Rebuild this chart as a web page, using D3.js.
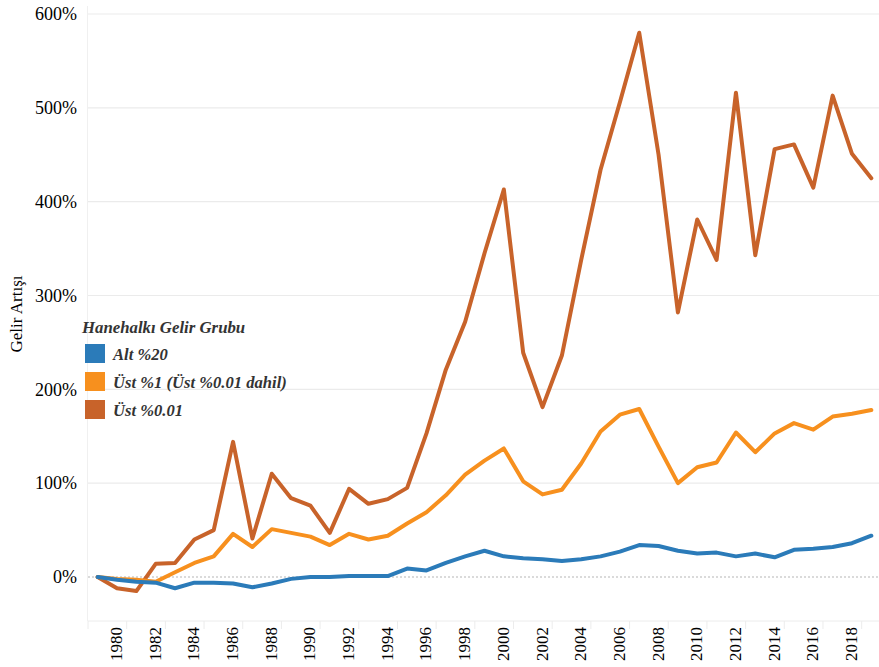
<!DOCTYPE html>
<html>
<head>
<meta charset="utf-8">
<script src="https://cdn.jsdelivr.net/npm/d3@7"></script>
<style>
  body { margin: 0; background: #fff; }
</style>
</head>
<body>
<div id="chart"></div>
<script>
const years = d3.range(1979, 2020);
const alt20 = [0, -3, -5, -6, -12, -6, -6, -7, -11, -7, -2, 0, 0, 1, 1, 1, 9, 7, 15, 22, 28, 22, 20, 19, 17, 19, 22, 27, 34, 33, 28, 25, 26, 22, 25, 21, 29, 30, 32, 36, 44];
const ust1 = [0, -2, -3, -5, 5, 15, 22, 46, 32, 51, 47, 43, 34, 46, 40, 44, 57, 69, 87, 109, 124, 137, 102, 88, 93, 121, 155, 173, 179, 139, 100, 117, 122, 154, 133, 153, 164, 157, 171, 174, 178];
const ust001 = [0, -12, -15, 14, 15, 40, 50, 144, 41, 110, 84, 76, 47, 94, 78, 83, 95, 153, 221, 272, 345, 413, 239, 181, 236, 338, 434, 506, 580, 450, 282, 381, 338, 516, 343, 456, 461, 415, 513, 451, 425];
const yTicks = [0, 100, 200, 300, 400, 500, 600];
const seriesNames = ['Alt %20', 'Üst %1 (Üst %0.01 dahil)', 'Üst %0.01'];
const colors = ['#2b7bb9', '#f7901e', '#c8632a'];

const width = 879, height = 667;
const plotLeft = 88, plotRight = 881, plotTop = 14, plotBottom = 577, axisY = 621;
const serif = '"Liberation Serif", "Times New Roman", serif';

const svg = d3.select('#chart').append('svg')
  .attr('width', width)
  .attr('height', height)
  .attr('font-family', serif);

const x = d3.scaleBand().domain(years).range([plotLeft, plotRight]);
const y = d3.scaleLinear().domain([0, 600]).range([plotBottom, plotTop]);
const cx = d => x(d) + x.bandwidth() / 2;

// gridlines
svg.append('g')
  .selectAll('line')
  .data(yTicks.filter(d => d > 0))
  .join('line')
  .attr('x1', plotLeft).attr('x2', width)
  .attr('y1', d => y(d)).attr('y2', d => y(d))
  .attr('stroke', '#ebebeb')
  .attr('stroke-width', 1.2);

svg.append('line')
  .attr('x1', plotLeft).attr('x2', width)
  .attr('y1', y(0)).attr('y2', y(0))
  .attr('stroke', '#b5b5b5')
  .attr('stroke-dasharray', '2,2');

// left axis line
svg.append('line')
  .attr('x1', plotLeft - 0.5).attr('x2', plotLeft - 0.5)
  .attr('y1', 6).attr('y2', axisY)
  .attr('stroke', '#f0f0f0');

// y axis labels
const yAxis = d3.axisLeft(y).tickValues(yTicks).tickFormat(d => d + '%').tickSize(0).tickPadding(11);
svg.append('g')
  .attr('transform', `translate(${plotLeft},0)`)
  .call(yAxis)
  .attr('font-family', serif)
  .call(g => g.select('.domain').remove())
  .call(g => g.selectAll('text')
    .attr('font-size', 18)
    .attr('fill', '#000'));

svg.append('text')
  .attr('transform', `translate(22,314) rotate(-90)`)
  .attr('text-anchor', 'middle')
  .attr('font-size', 17)
  .attr('fill', '#000')
  .text('Gelir Artışı');

// x axis
svg.append('line')
  .attr('x1', plotLeft).attr('x2', width)
  .attr('y1', axisY).attr('y2', axisY)
  .attr('stroke', '#ececec');

svg.append('g')
  .selectAll('line')
  .data(years.filter(d => d % 2 === 1))
  .join('line')
  .attr('x1', d => x(d)).attr('x2', d => x(d))
  .attr('y1', axisY).attr('y2', axisY + 8)
  .attr('stroke', '#ececec');

svg.append('g')
  .selectAll('text')
  .data(years.filter(d => d % 2 === 0))
  .join('text')
  .attr('transform', d => `translate(${cx(d) + 5},627) rotate(-90)`)
  .attr('text-anchor', 'end')
  .attr('font-size', 17)
  .attr('fill', '#000')
  .text(d => d);

// lines
const seriesData = [alt20, ust1, ust001];
const line = d3.line()
  .x((d, i) => cx(years[i]))
  .y(d => y(d));

[2, 1, 0].forEach(k => {
  svg.append('path')
    .datum(seriesData[k])
    .attr('fill', 'none')
    .attr('stroke', colors[k])
    .attr('stroke-width', 4)
    .attr('stroke-linejoin', 'round')
    .attr('stroke-linecap', 'round')
    .attr('d', line);
});

// legend
const legend = svg.append('g');
legend.append('text')
  .attr('x', 82).attr('y', 333)
  .attr('font-size', 16.8)
  .attr('font-weight', 'bold')
  .attr('font-style', 'italic')
  .attr('fill', '#333')
  .text('Hanehalkı Gelir Grubu');

const items = legend.selectAll('g.item')
  .data(seriesNames)
  .join('g')
  .attr('class', 'item')
  .attr('transform', (d, i) => `translate(0,${344 + i * 28})`);

items.append('rect')
  .attr('x', 85).attr('y', 0)
  .attr('width', 20).attr('height', 19)
  .attr('fill', (d, i) => colors[i]);

items.append('text')
  .attr('x', 113).attr('y', 16)
  .attr('font-size', 16.6)
  .attr('font-weight', 'bold')
  .attr('font-style', 'italic')
  .attr('fill', '#333')
  .text(d => d);
</script>
</body>
</html>
